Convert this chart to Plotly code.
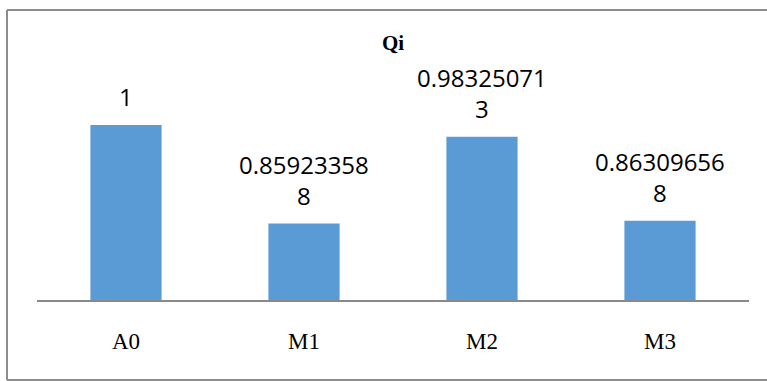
import plotly.graph_objects as go

# Qi per model
categories = ["A0", "M1", "M2", "M3"]
qi_values = [1, 0.859233588, 0.983250713, 0.863096568]

W, H = 767, 381
PLOT_L, PLOT_R, PLOT_B = 37, 749, 300
Y_MIN, Y_MAX = 0.75, 1.1
PX_PER_UNIT = 700.0
PLOT_T = PLOT_B - (Y_MAX - Y_MIN) * PX_PER_UNIT


def wrap_value(v, width=10):
    s = str(v)
    return "<br>".join(s[i:i + width] for i in range(0, len(s), width))


def px_to_paper_x(px):
    return (px - PLOT_L) / (PLOT_R - PLOT_L)


def px_to_paper_y(py):
    return (PLOT_B - py) / (PLOT_B - PLOT_T)


fig = go.Figure(
    go.Bar(
        x=categories,
        y=qi_values,
        marker=dict(color="#5B9BD5", line=dict(width=0)),
        hoverinfo="skip",
    )
)

for cat, v in zip(categories, qi_values):
    fig.add_annotation(
        x=cat, y=v, xref="x", yref="y",
        text=wrap_value(v),
        showarrow=False, yanchor="bottom", yshift=10,
        font=dict(family="Open Sans", size=24, color="#000000"),
    )

border = dict(color="#8c8c8c", width=2)
left, top, bottom, right = px_to_paper_x(7), px_to_paper_y(10), px_to_paper_y(380), px_to_paper_x(767)
fig.add_shape(type="line", xref="paper", yref="paper", x0=left, x1=left, y0=bottom, y1=top, line=border)
fig.add_shape(type="line", xref="paper", yref="paper", x0=left, x1=right, y0=top, y1=top, line=border)
fig.add_shape(type="line", xref="paper", yref="paper", x0=left, x1=right, y0=bottom, y1=bottom, line=border)

fig.update_layout(
    width=W, height=H,
    margin=dict(l=PLOT_L, r=W - PLOT_R, t=PLOT_T, b=H - PLOT_B, pad=0),
    paper_bgcolor="white", plot_bgcolor="white",
    bargap=0.6,
    showlegend=False,
    title=dict(
        text="<b>Qi</b>", x=px_to_paper_x(393), xref="paper",
        y=1 - 43 / H, yref="container", xanchor="center", yanchor="middle",
        font=dict(family="Liberation Serif", size=21, color="#000000"),
    ),
    xaxis=dict(
        showgrid=False, zeroline=False, showline=True,
        linecolor="#898989", linewidth=1.5,
        ticks="", ticklabelstandoff=20,
        tickfont=dict(family="Liberation Serif", size=23, color="#000000"),
    ),
    yaxis=dict(
        range=[Y_MIN, Y_MAX], visible=False, fixedrange=True,
    ),
)

fig.write_html("out.html")
